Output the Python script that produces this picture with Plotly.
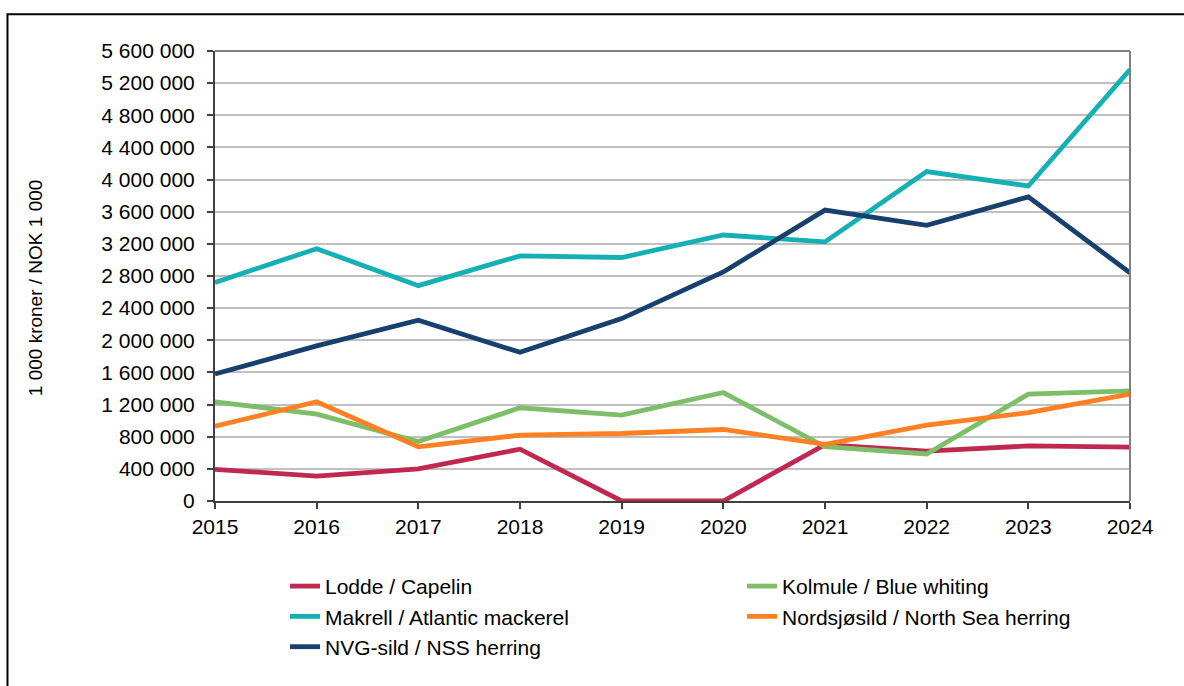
import plotly.graph_objects as go

years = [2015, 2016, 2017, 2018, 2019, 2020, 2021, 2022, 2023, 2024]

lodde = [394000, 310000, 400000, 645000, 0, 0, 700000, 620000, 685000, 670000]
kolmule = [1235000, 1080000, 740000, 1160000, 1070000, 1350000, 675000, 585000, 1330000, 1370000]
makrell = [2720000, 3140000, 2680000, 3050000, 3030000, 3310000, 3225000, 4100000, 3920000, 5370000]
nordsjosild = [930000, 1235000, 675000, 820000, 840000, 890000, 705000, 945000, 1100000, 1330000]
nvg_sild = [1580000, 1930000, 2250000, 1850000, 2270000, 2850000, 3620000, 3430000, 3785000, 2840000]

# (name, values, colour, legend column)
series = [
    ("Lodde / Capelin", lodde, "#C0284F", "legend"),
    ("Kolmule / Blue whiting", kolmule, "#7DBE69", "legend2"),
    ("Makrell / Atlantic mackerel", makrell, "#14B0B4", "legend"),
    ("Nordsjøsild / North Sea herring", nordsjosild, "#FF8022", "legend2"),
    ("NVG-sild / NSS herring", nvg_sild, "#17406E", "legend"),
]

FONT = "Liberation Sans, Arial, sans-serif"

fig = go.Figure()
for name, vals, col, leg in series:
    fig.add_trace(go.Scatter(x=years, y=vals, name=name, mode="lines",
                             line=dict(color=col, width=4.8), legend=leg))

legend_common = dict(orientation="v", yanchor="top", xanchor="left",
                     font=dict(size=21, family=FONT, color="black"),
                     bgcolor="rgba(0,0,0,0)", tracegroupgap=0, itemwidth=30)

fig.update_layout(
    width=1184, height=686,
    margin=dict(l=215, r=54, t=51, b=185, autoexpand=False),
    paper_bgcolor="white", plot_bgcolor="white",
    separators=", ",
    font=dict(family=FONT, size=21, color="black"),
    showlegend=True,
    legend=dict(x=0.0765, y=-0.1443, **legend_common),
    legend2=dict(x=0.576, y=-0.1443, **legend_common),
    xaxis=dict(range=[2015, 2024], tickmode="array", tickvals=years,
               ticks="outside", ticklen=6, tickcolor="#404040", tickwidth=1.5,
               showline=True, linecolor="#404040", linewidth=2,
               showgrid=False, zeroline=False,
               tickfont=dict(size=21, family=FONT, color="black")),
    yaxis=dict(range=[0, 5600000], dtick=400000, tick0=0, tickformat=",.0f",
               ticks="outside", ticklen=6, tickcolor="#404040", tickwidth=1.5,
               showline=True, linecolor="#404040", linewidth=2,
               showgrid=True, gridcolor="#C0C0C0", gridwidth=2,
               zeroline=False, ticklabelstandoff=8,
               tickfont=dict(size=21, family=FONT, color="black")),
)

# plot area top/right border (gray)
fig.add_shape(type="line", xref="paper", yref="paper", x0=0, x1=1, y0=1, y1=1,
              line=dict(color="#808080", width=2), layer="above")
fig.add_shape(type="line", xref="paper", yref="paper", x0=1, x1=1, y0=0, y1=1,
              line=dict(color="#808080", width=2), layer="above")
# outer frame
fig.add_shape(type="rect", xref="paper", yref="paper",
              x0=-0.2268, x1=1.2, y0=-0.6, y1=1.0815,
              line=dict(color="black", width=2), layer="above")

fig.add_annotation(text="1 000 kroner / NOK 1 000", xref="paper", yref="paper",
                   x=-0.1967, y=0.473, xanchor="center", yanchor="middle",
                   textangle=-90, showarrow=False,
                   font=dict(size=19, family=FONT, color="black"))

fig.write_html("out.html",
               config={"displayModeBar": False},
               post_script="document.body.style.margin='0';document.body.style.overflow='hidden';")
